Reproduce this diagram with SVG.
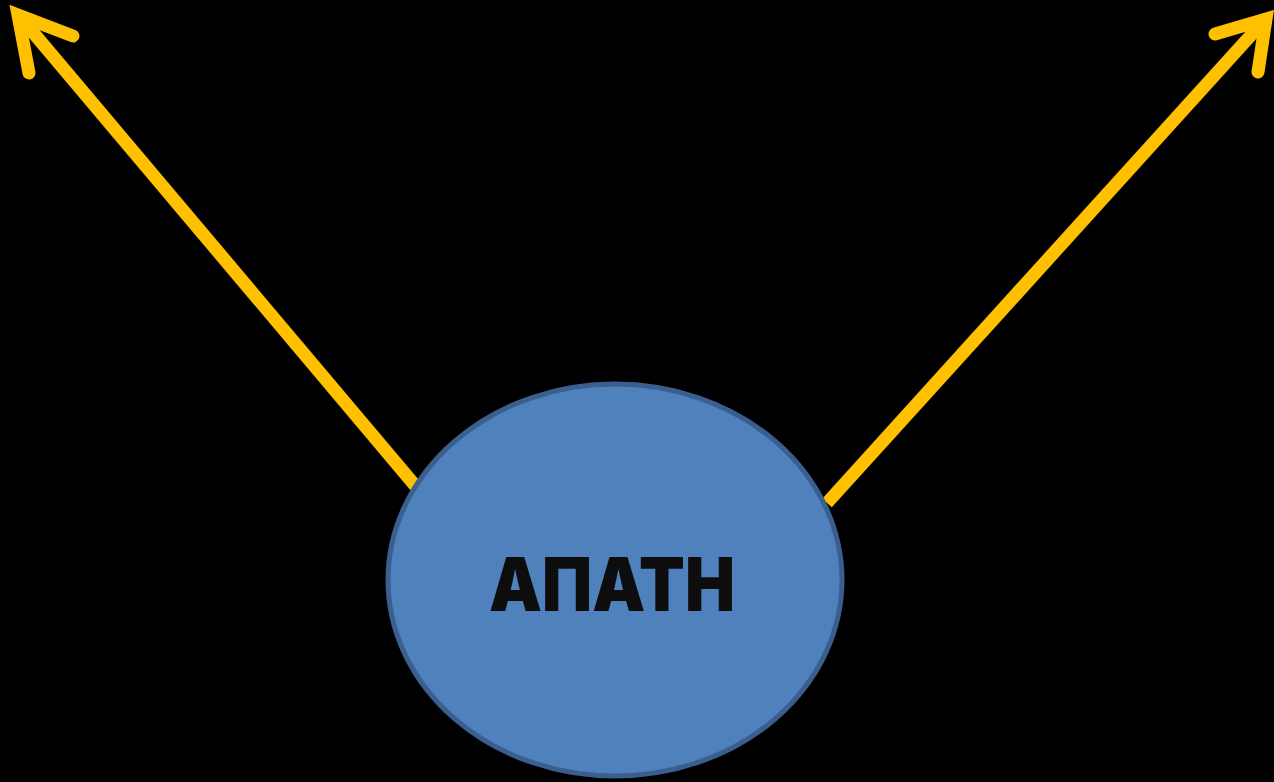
<svg xmlns="http://www.w3.org/2000/svg" width="1274" height="782" viewBox="0 0 1274 782">
<style>
.arr{fill:none;stroke:#FFC000;stroke-width:13}
.head{fill:none;stroke:#FFC000;stroke-width:13;stroke-linecap:round;stroke-linejoin:miter;stroke-miterlimit:10}
.lbl{font-family:Inter,"DejaVu Sans",sans-serif;font-weight:900;font-size:74px;fill:#0d0d0d}
</style>
<rect width="1274" height="782" fill="#000"/>
<g id="connectors">
<line class="arr" x1="418" y1="489" x2="20" y2="17"/>
<path class="head" d="M73,36 L18,15 L29,73"/>
<line class="arr" x1="827" y1="503" x2="1262" y2="23"/>
<path class="head" d="M1215,34 L1266,19 L1258,72"/>
</g>
<g id="node-apati">
<ellipse cx="615" cy="580" rx="227" ry="196" fill="#4F81BD" stroke="#3A5F8E" stroke-width="5"/>
<text class="lbl" x="612" y="611" text-anchor="middle" textLength="246" lengthAdjust="spacingAndGlyphs">ΑΠΑΤΗ</text>
</g>
</svg>
